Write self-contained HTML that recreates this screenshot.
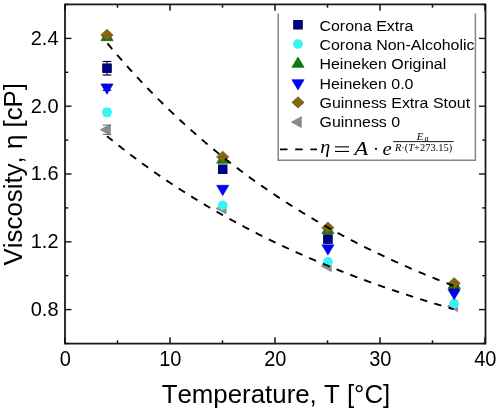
<!DOCTYPE html>
<html><head><meta charset="utf-8"><style>html,body{margin:0;padding:0;background:#fff;width:500px;height:413px;overflow:hidden}svg{display:block;will-change:transform}text{font-kerning:none}</style></head>
<body><svg width="500" height="413" viewBox="0 0 500 413">
<rect x="65" y="4.4" width="420.5" height="339.20000000000005" fill="none" stroke="#1c1c1c" stroke-width="1.8"/>
<line x1="65.0" y1="343.6" x2="65.0" y2="337.3" stroke="#111" stroke-width="1.5"/>
<line x1="65.0" y1="4.4" x2="65.0" y2="10.7" stroke="#111" stroke-width="1.5"/>
<line x1="117.5" y1="343.6" x2="117.5" y2="340.3" stroke="#111" stroke-width="1.5"/>
<line x1="117.5" y1="4.4" x2="117.5" y2="7.7" stroke="#111" stroke-width="1.5"/>
<line x1="170.0" y1="343.6" x2="170.0" y2="337.3" stroke="#111" stroke-width="1.5"/>
<line x1="170.0" y1="4.4" x2="170.0" y2="10.7" stroke="#111" stroke-width="1.5"/>
<line x1="222.5" y1="343.6" x2="222.5" y2="340.3" stroke="#111" stroke-width="1.5"/>
<line x1="222.5" y1="4.4" x2="222.5" y2="7.7" stroke="#111" stroke-width="1.5"/>
<line x1="275.0" y1="343.6" x2="275.0" y2="337.3" stroke="#111" stroke-width="1.5"/>
<line x1="275.0" y1="4.4" x2="275.0" y2="10.7" stroke="#111" stroke-width="1.5"/>
<line x1="327.5" y1="343.6" x2="327.5" y2="340.3" stroke="#111" stroke-width="1.5"/>
<line x1="327.5" y1="4.4" x2="327.5" y2="7.7" stroke="#111" stroke-width="1.5"/>
<line x1="380.0" y1="343.6" x2="380.0" y2="337.3" stroke="#111" stroke-width="1.5"/>
<line x1="380.0" y1="4.4" x2="380.0" y2="10.7" stroke="#111" stroke-width="1.5"/>
<line x1="432.5" y1="343.6" x2="432.5" y2="340.3" stroke="#111" stroke-width="1.5"/>
<line x1="432.5" y1="4.4" x2="432.5" y2="7.7" stroke="#111" stroke-width="1.5"/>
<line x1="485.0" y1="343.6" x2="485.0" y2="337.3" stroke="#111" stroke-width="1.5"/>
<line x1="485.0" y1="4.4" x2="485.0" y2="10.7" stroke="#111" stroke-width="1.5"/>
<line x1="65" y1="343.50" x2="68.3" y2="343.50" stroke="#111" stroke-width="1.4"/>
<line x1="485.5" y1="343.50" x2="482.2" y2="343.50" stroke="#111" stroke-width="1.4"/>
<line x1="65" y1="309.60" x2="71.5" y2="309.60" stroke="#111" stroke-width="1.4"/>
<line x1="485.5" y1="309.60" x2="479.0" y2="309.60" stroke="#111" stroke-width="1.4"/>
<line x1="65" y1="275.70" x2="68.3" y2="275.70" stroke="#111" stroke-width="1.4"/>
<line x1="485.5" y1="275.70" x2="482.2" y2="275.70" stroke="#111" stroke-width="1.4"/>
<line x1="65" y1="241.80" x2="71.5" y2="241.80" stroke="#111" stroke-width="1.4"/>
<line x1="485.5" y1="241.80" x2="479.0" y2="241.80" stroke="#111" stroke-width="1.4"/>
<line x1="65" y1="207.90" x2="68.3" y2="207.90" stroke="#111" stroke-width="1.4"/>
<line x1="485.5" y1="207.90" x2="482.2" y2="207.90" stroke="#111" stroke-width="1.4"/>
<line x1="65" y1="174.00" x2="71.5" y2="174.00" stroke="#111" stroke-width="1.4"/>
<line x1="485.5" y1="174.00" x2="479.0" y2="174.00" stroke="#111" stroke-width="1.4"/>
<line x1="65" y1="140.10" x2="68.3" y2="140.10" stroke="#111" stroke-width="1.4"/>
<line x1="485.5" y1="140.10" x2="482.2" y2="140.10" stroke="#111" stroke-width="1.4"/>
<line x1="65" y1="106.20" x2="71.5" y2="106.20" stroke="#111" stroke-width="1.4"/>
<line x1="485.5" y1="106.20" x2="479.0" y2="106.20" stroke="#111" stroke-width="1.4"/>
<line x1="65" y1="72.30" x2="68.3" y2="72.30" stroke="#111" stroke-width="1.4"/>
<line x1="485.5" y1="72.30" x2="482.2" y2="72.30" stroke="#111" stroke-width="1.4"/>
<line x1="65" y1="38.40" x2="71.5" y2="38.40" stroke="#111" stroke-width="1.4"/>
<line x1="485.5" y1="38.40" x2="479.0" y2="38.40" stroke="#111" stroke-width="1.4"/>
<line x1="65" y1="4.50" x2="68.3" y2="4.50" stroke="#111" stroke-width="1.4"/>
<line x1="485.5" y1="4.50" x2="482.2" y2="4.50" stroke="#111" stroke-width="1.4"/>
<text transform="translate(65.30,366) scale(1,1.06)" x="0" y="0" font-family="Liberation Sans, sans-serif" font-size="20" text-anchor="middle">0</text>
<text transform="translate(170.30,366) scale(1,1.06)" x="0" y="0" font-family="Liberation Sans, sans-serif" font-size="20" text-anchor="middle">10</text>
<text transform="translate(275.30,366) scale(1,1.06)" x="0" y="0" font-family="Liberation Sans, sans-serif" font-size="20" text-anchor="middle">20</text>
<text transform="translate(380.30,366) scale(1,1.06)" x="0" y="0" font-family="Liberation Sans, sans-serif" font-size="20" text-anchor="middle">30</text>
<text transform="translate(485.30,366) scale(1,1.06)" x="0" y="0" font-family="Liberation Sans, sans-serif" font-size="20" text-anchor="middle">40</text>
<text transform="translate(58.5,315.90) scale(1,1.05)" x="0" y="0" font-family="Liberation Sans, sans-serif" font-size="20" text-anchor="end">0.8</text>
<text transform="translate(58.5,248.10) scale(1,1.05)" x="0" y="0" font-family="Liberation Sans, sans-serif" font-size="20" text-anchor="end">1.2</text>
<text transform="translate(58.5,180.30) scale(1,1.05)" x="0" y="0" font-family="Liberation Sans, sans-serif" font-size="20" text-anchor="end">1.6</text>
<text transform="translate(58.5,112.50) scale(1,1.05)" x="0" y="0" font-family="Liberation Sans, sans-serif" font-size="20" text-anchor="end">2.0</text>
<text transform="translate(58.5,44.70) scale(1,1.05)" x="0" y="0" font-family="Liberation Sans, sans-serif" font-size="20" text-anchor="end">2.4</text>
<text x="276" y="403" font-family="Liberation Sans, sans-serif" font-size="25.85" text-anchor="middle">Temperature, T [°C]</text>
<text transform="translate(21.5,174.2) rotate(-90)" x="0" y="0" font-family="Liberation Sans, sans-serif" font-size="25.85" text-anchor="middle">Viscosity, η [cP]</text>
<line x1="107.0" y1="61.5" x2="107.0" y2="75" stroke="#000040" stroke-width="1"/>
<line x1="102.7" y1="61.5" x2="111.3" y2="61.5" stroke="#000040" stroke-width="1.2"/>
<line x1="102.7" y1="75" x2="111.3" y2="75" stroke="#000040" stroke-width="1.2"/>
<line x1="102.7" y1="90.29" x2="111.3" y2="90.29" stroke="#00008a" stroke-width="1.2"/>
<line x1="102.7" y1="84.49" x2="111.3" y2="84.49" stroke="#00008a" stroke-width="1.2"/>
<line x1="102.8" y1="125.16" x2="111.2" y2="125.16" stroke="#7a7a7a" stroke-width="1.2"/>
<line x1="102.8" y1="134.36" x2="111.2" y2="134.36" stroke="#7a7a7a" stroke-width="1.2"/>
<line x1="103.2" y1="108.60" x2="110.8" y2="108.60" stroke="#38f2f4" stroke-width="1.3"/>
<line x1="103.2" y1="116.00" x2="110.8" y2="116.00" stroke="#38f2f4" stroke-width="1.3"/>
<path d="M100.33,129.76 L110.33,124.36 L110.33,135.16Z" fill="#8c8c8c" stroke="#707070" stroke-width="0.6"/>
<path d="M216.05,208.41 L226.05,203.01 L226.05,213.81Z" fill="#8c8c8c" stroke="#707070" stroke-width="0.6"/>
<path d="M321.25,266.21 L331.25,260.81 L331.25,271.61Z" fill="#8c8c8c" stroke="#707070" stroke-width="0.6"/>
<path d="M447.49,306.21 L457.49,300.81 L457.49,311.61Z" fill="#8c8c8c" stroke="#707070" stroke-width="0.6"/>
<rect x="102.70" y="63.93" width="8.6" height="8.6" fill="#000090" stroke="#000040" stroke-width="0.9"/>
<rect x="218.42" y="164.95" width="8.6" height="8.6" fill="#000090" stroke="#000040" stroke-width="0.9"/>
<rect x="323.62" y="234.79" width="8.6" height="8.6" fill="#000090" stroke="#000040" stroke-width="0.9"/>
<rect x="449.86" y="283.26" width="8.6" height="8.6" fill="#000090" stroke="#000040" stroke-width="0.9"/>
<circle cx="107.00" cy="112.30" r="4.85" fill="#38f2f4"/>
<circle cx="222.72" cy="205.36" r="4.85" fill="#38f2f4"/>
<circle cx="327.92" cy="261.97" r="4.85" fill="#38f2f4"/>
<circle cx="454.16" cy="303.67" r="4.85" fill="#38f2f4"/>
<path d="M107.00,30.35 L113.10,40.65 L100.90,40.65Z" fill="#0a7d0a" stroke="#055a05" stroke-width="0.6"/>
<path d="M222.72,153.06 L228.82,163.36 L216.62,163.36Z" fill="#0a7d0a" stroke="#055a05" stroke-width="0.6"/>
<path d="M327.92,223.41 L334.02,233.71 L321.82,233.71Z" fill="#0a7d0a" stroke="#055a05" stroke-width="0.6"/>
<path d="M454.16,278.16 L460.26,288.46 L448.06,288.46Z" fill="#0a7d0a" stroke="#055a05" stroke-width="0.6"/>
<path d="M100.90,83.95 L113.10,83.95 L107.00,94.25Z" fill="#0000ff" stroke="#0000b0" stroke-width="0.6"/>
<path d="M216.62,185.31 L228.82,185.31 L222.72,195.61Z" fill="#0000ff" stroke="#0000b0" stroke-width="0.6"/>
<path d="M321.82,244.81 L334.02,244.81 L327.92,255.11Z" fill="#0000ff" stroke="#0000b0" stroke-width="0.6"/>
<path d="M448.06,289.39 L460.26,289.39 L454.16,299.69Z" fill="#0000ff" stroke="#0000b0" stroke-width="0.6"/>
<path d="M107.00,29.31 L113.15,35.01 L107.00,40.71 L100.85,35.01Z" fill="#85650f" stroke="#5e470a" stroke-width="0.6"/>
<path d="M222.72,151.18 L228.87,156.88 L222.72,162.58 L216.57,156.88Z" fill="#85650f" stroke="#5e470a" stroke-width="0.6"/>
<path d="M327.92,222.03 L334.07,227.73 L327.92,233.43 L321.77,227.73Z" fill="#85650f" stroke="#5e470a" stroke-width="0.6"/>
<path d="M454.16,277.63 L460.31,283.33 L454.16,289.03 L448.01,283.33Z" fill="#85650f" stroke="#5e470a" stroke-width="0.6"/>
<polyline points="107.00,42.89 108.05,44.15 109.10,45.41 110.15,46.66 111.20,47.91 112.25,49.15 113.30,50.38 114.35,51.62 115.40,52.84 116.45,54.06 117.50,55.28 118.55,56.50 119.60,57.70 120.65,58.91 121.70,60.11 122.75,61.30 123.80,62.49 124.85,63.68 125.90,64.86 126.95,66.03 128.00,67.21 129.05,68.37 130.10,69.54 131.15,70.70 132.20,71.85 133.25,73.00 134.30,74.15 135.35,75.29 136.40,76.42 137.45,77.56 138.50,78.69 139.55,79.81 140.60,80.93 141.65,82.04 142.70,83.16 143.75,84.26 144.80,85.37 145.85,86.47 146.90,87.56 147.95,88.65 149.00,89.74 150.05,90.82 151.10,91.90 152.15,92.97 153.20,94.04 154.25,95.11 155.30,96.17 156.35,97.23 157.40,98.28 158.45,99.33 159.50,100.38 160.55,101.42 161.60,102.46 162.65,103.50 163.70,104.53 164.75,105.56 165.80,106.58 166.85,107.60 167.90,108.61 168.95,109.63 170.00,110.63 171.05,111.64 172.10,112.64 173.15,113.64 174.20,114.63 175.25,115.62 176.30,116.61 177.35,117.59 178.40,118.57 179.45,119.54 180.50,120.51 181.55,121.48 182.60,122.45 183.65,123.41 184.70,124.36 185.75,125.32 186.80,126.27 187.85,127.22 188.90,128.16 189.95,129.10 191.00,130.03 192.05,130.97 193.10,131.90 194.15,132.82 195.20,133.75 196.25,134.67 197.30,135.58 198.35,136.50 199.40,137.40 200.45,138.31 201.50,139.21 202.55,140.11 203.60,141.01 204.65,141.90 205.70,142.79 206.75,143.68 207.80,144.56 208.85,145.44 209.90,146.32 210.95,147.19 212.00,148.06 213.05,148.93 214.10,149.80 215.15,150.66 216.20,151.51 217.25,152.37 218.30,153.22 219.35,154.07 220.40,154.92 221.45,155.76 222.50,156.60 223.55,157.44 224.60,158.27 225.65,159.10 226.70,159.93 227.75,160.75 228.80,161.57 229.85,162.39 230.90,163.21 231.95,164.02 233.00,164.83 234.05,165.64 235.10,166.44 236.15,167.25 237.20,168.04 238.25,168.84 239.30,169.63 240.35,170.42 241.40,171.21 242.45,172.00 243.50,172.78 244.55,173.56 245.60,174.33 246.65,175.11 247.70,175.88 248.75,176.64 249.80,177.41 250.85,178.17 251.90,178.93 252.95,179.69 254.00,180.44 255.05,181.20 256.10,181.95 257.15,182.69 258.20,183.44 259.25,184.18 260.30,184.92 261.35,185.65 262.40,186.39 263.45,187.12 264.50,187.84 265.55,188.57 266.60,189.29 267.65,190.01 268.70,190.73 269.75,191.45 270.80,192.16 271.85,192.87 272.90,193.58 273.95,194.29 275.00,194.99 276.05,195.69 277.10,196.39 278.15,197.09 279.20,197.78 280.25,198.47 281.30,199.16 282.35,199.85 283.40,200.53 284.45,201.21 285.50,201.89 286.55,202.57 287.60,203.24 288.65,203.92 289.70,204.59 290.75,205.25 291.80,205.92 292.85,206.58 293.90,207.24 294.95,207.90 296.00,208.56 297.05,209.21 298.10,209.86 299.15,210.51 300.20,211.16 301.25,211.80 302.30,212.45 303.35,213.09 304.40,213.73 305.45,214.36 306.50,215.00 307.55,215.63 308.60,216.26 309.65,216.89 310.70,217.51 311.75,218.13 312.80,218.76 313.85,219.37 314.90,219.99 315.95,220.61 317.00,221.22 318.05,221.83 319.10,222.44 320.15,223.05 321.20,223.65 322.25,224.25 323.30,224.85 324.35,225.45 325.40,226.05 326.45,226.64 327.50,227.23 328.55,227.82 329.60,228.41 330.65,229.00 331.70,229.58 332.75,230.17 333.80,230.75 334.85,231.32 335.90,231.90 336.95,232.48 338.00,233.05 339.05,233.62 340.10,234.19 341.15,234.75 342.20,235.32 343.25,235.88 344.30,236.44 345.35,237.00 346.40,237.56 347.45,238.12 348.50,238.67 349.55,239.22 350.60,239.77 351.65,240.32 352.70,240.87 353.75,241.41 354.80,241.95 355.85,242.50 356.90,243.03 357.95,243.57 359.00,244.11 360.05,244.64 361.10,245.17 362.15,245.70 363.20,246.23 364.25,246.76 365.30,247.28 366.35,247.81 367.40,248.33 368.45,248.85 369.50,249.37 370.55,249.88 371.60,250.40 372.65,250.91 373.70,251.42 374.75,251.93 375.80,252.44 376.85,252.95 377.90,253.45 378.95,253.95 380.00,254.46 381.05,254.96 382.10,255.45 383.15,255.95 384.20,256.45 385.25,256.94 386.30,257.43 387.35,257.92 388.40,258.41 389.45,258.90 390.50,259.38 391.55,259.86 392.60,260.35 393.65,260.83 394.70,261.31 395.75,261.78 396.80,262.26 397.85,262.73 398.90,263.21 399.95,263.68 401.00,264.15 402.05,264.61 403.10,265.08 404.15,265.55 405.20,266.01 406.25,266.47 407.30,266.93 408.35,267.39 409.40,267.85 410.45,268.31 411.50,268.76 412.55,269.21 413.60,269.67 414.65,270.12 415.70,270.56 416.75,271.01 417.80,271.46 418.85,271.90 419.90,272.35 420.95,272.79 422.00,273.23 423.05,273.67 424.10,274.10 425.15,274.54 426.20,274.98 427.25,275.41 428.30,275.84 429.35,276.27 430.40,276.70 431.45,277.13 432.50,277.55 433.55,277.98 434.60,278.40 435.65,278.83 436.70,279.25 437.75,279.67 438.80,280.08 439.85,280.50 440.90,280.92 441.95,281.33 443.00,281.75 444.05,282.16 445.10,282.57 446.15,282.98 447.20,283.38 448.25,283.79 449.30,284.20 450.35,284.60 451.40,285.00 452.45,285.40 453.50,285.80" fill="none" stroke="#000" stroke-width="1.9" stroke-dasharray="7.5,7.5" stroke-dashoffset="-0.6"/>
<polyline points="107.00,136.17 108.05,137.03 109.10,137.88 110.15,138.73 111.20,139.58 112.25,140.43 113.30,141.27 114.35,142.11 115.40,142.95 116.45,143.78 117.50,144.62 118.55,145.45 119.60,146.27 120.65,147.09 121.70,147.91 122.75,148.73 123.80,149.55 124.85,150.36 125.90,151.17 126.95,151.97 128.00,152.78 129.05,153.58 130.10,154.37 131.15,155.17 132.20,155.96 133.25,156.75 134.30,157.54 135.35,158.32 136.40,159.10 137.45,159.88 138.50,160.66 139.55,161.43 140.60,162.20 141.65,162.97 142.70,163.74 143.75,164.50 144.80,165.26 145.85,166.02 146.90,166.77 147.95,167.52 149.00,168.27 150.05,169.02 151.10,169.77 152.15,170.51 153.20,171.25 154.25,171.99 155.30,172.72 156.35,173.45 157.40,174.18 158.45,174.91 159.50,175.63 160.55,176.36 161.60,177.08 162.65,177.79 163.70,178.51 164.75,179.22 165.80,179.93 166.85,180.64 167.90,181.35 168.95,182.05 170.00,182.75 171.05,183.45 172.10,184.14 173.15,184.84 174.20,185.53 175.25,186.22 176.30,186.90 177.35,187.59 178.40,188.27 179.45,188.95 180.50,189.63 181.55,190.30 182.60,190.98 183.65,191.65 184.70,192.32 185.75,192.98 186.80,193.65 187.85,194.31 188.90,194.97 189.95,195.62 191.00,196.28 192.05,196.93 193.10,197.58 194.15,198.23 195.20,198.88 196.25,199.52 197.30,200.17 198.35,200.81 199.40,201.44 200.45,202.08 201.50,202.71 202.55,203.35 203.60,203.98 204.65,204.60 205.70,205.23 206.75,205.85 207.80,206.47 208.85,207.09 209.90,207.71 210.95,208.33 212.00,208.94 213.05,209.55 214.10,210.16 215.15,210.77 216.20,211.37 217.25,211.98 218.30,212.58 219.35,213.18 220.40,213.77 221.45,214.37 222.50,214.96 223.55,215.55 224.60,216.14 225.65,216.73 226.70,217.32 227.75,217.90 228.80,218.48 229.85,219.06 230.90,219.64 231.95,220.22 233.00,220.79 234.05,221.37 235.10,221.94 236.15,222.50 237.20,223.07 238.25,223.64 239.30,224.20 240.35,224.76 241.40,225.32 242.45,225.88 243.50,226.44 244.55,226.99 245.60,227.54 246.65,228.09 247.70,228.64 248.75,229.19 249.80,229.74 250.85,230.28 251.90,230.82 252.95,231.36 254.00,231.90 255.05,232.44 256.10,232.97 257.15,233.51 258.20,234.04 259.25,234.57 260.30,235.10 261.35,235.62 262.40,236.15 263.45,236.67 264.50,237.19 265.55,237.71 266.60,238.23 267.65,238.75 268.70,239.26 269.75,239.78 270.80,240.29 271.85,240.80 272.90,241.31 273.95,241.81 275.00,242.32 276.05,242.82 277.10,243.32 278.15,243.82 279.20,244.32 280.25,244.82 281.30,245.32 282.35,245.81 283.40,246.30 284.45,246.79 285.50,247.28 286.55,247.77 287.60,248.26 288.65,248.74 289.70,249.23 290.75,249.71 291.80,250.19 292.85,250.67 293.90,251.15 294.95,251.62 296.00,252.10 297.05,252.57 298.10,253.04 299.15,253.51 300.20,253.98 301.25,254.45 302.30,254.91 303.35,255.38 304.40,255.84 305.45,256.30 306.50,256.76 307.55,257.22 308.60,257.68 309.65,258.13 310.70,258.58 311.75,259.04 312.80,259.49 313.85,259.94 314.90,260.39 315.95,260.83 317.00,261.28 318.05,261.72 319.10,262.17 320.15,262.61 321.20,263.05 322.25,263.49 323.30,263.93 324.35,264.36 325.40,264.80 326.45,265.23 327.50,265.66 328.55,266.09 329.60,266.52 330.65,266.95 331.70,267.38 332.75,267.80 333.80,268.23 334.85,268.65 335.90,269.07 336.95,269.49 338.00,269.91 339.05,270.33 340.10,270.75 341.15,271.16 342.20,271.58 343.25,271.99 344.30,272.40 345.35,272.81 346.40,273.22 347.45,273.63 348.50,274.04 349.55,274.44 350.60,274.85 351.65,275.25 352.70,275.65 353.75,276.05 354.80,276.45 355.85,276.85 356.90,277.25 357.95,277.64 359.00,278.04 360.05,278.43 361.10,278.82 362.15,279.21 363.20,279.60 364.25,279.99 365.30,280.38 366.35,280.76 367.40,281.15 368.45,281.53 369.50,281.92 370.55,282.30 371.60,282.68 372.65,283.06 373.70,283.43 374.75,283.81 375.80,284.19 376.85,284.56 377.90,284.94 378.95,285.31 380.00,285.68 381.05,286.05 382.10,286.42 383.15,286.79 384.20,287.16 385.25,287.52 386.30,287.89 387.35,288.25 388.40,288.61 389.45,288.97 390.50,289.33 391.55,289.69 392.60,290.05 393.65,290.41 394.70,290.77 395.75,291.12 396.80,291.48 397.85,291.83 398.90,292.18 399.95,292.53 401.00,292.88 402.05,293.23 403.10,293.58 404.15,293.93 405.20,294.27 406.25,294.62 407.30,294.96 408.35,295.30 409.40,295.65 410.45,295.99 411.50,296.33 412.55,296.67 413.60,297.00 414.65,297.34 415.70,297.68 416.75,298.01 417.80,298.35 418.85,298.68 419.90,299.01 420.95,299.34 422.00,299.67 423.05,300.00 424.10,300.33 425.15,300.66 426.20,300.98 427.25,301.31 428.30,301.63 429.35,301.96 430.40,302.28 431.45,302.60 432.50,302.92 433.55,303.24 434.60,303.56 435.65,303.88 436.70,304.19 437.75,304.51 438.80,304.83 439.85,305.14 440.90,305.45 441.95,305.77 443.00,306.08 444.05,306.39 445.10,306.70 446.15,307.01 447.20,307.31 448.25,307.62 449.30,307.93 450.35,308.23 451.40,308.54 452.45,308.84 453.50,309.14" fill="none" stroke="#000" stroke-width="1.9" stroke-dasharray="7.4,7.4"/>
<rect x="278" y="13" width="197.5" height="147.5" fill="#fff"/>
<path d="M278.2,13.5 V160.3 H475.4 V13.5" fill="none" stroke="#858585" stroke-width="1.5"/>
<rect x="293.70" y="20.45" width="8.6" height="8.6" fill="#000090" stroke="#000040" stroke-width="0.9"/>
<text transform="translate(319.5,30.60) scale(1,0.93)" x="0" y="0" font-family="Liberation Sans, sans-serif" font-size="15.95">Corona Extra</text>
<circle cx="298.00" cy="44.00" r="4.85" fill="#38f2f4"/>
<text transform="translate(319.5,49.90) scale(1,0.93)" x="0" y="0" font-family="Liberation Sans, sans-serif" font-size="15.95">Corona Non-Alcoholic</text>
<path d="M298.00,57.03 L304.10,67.33 L291.90,67.33Z" fill="#0a7d0a" stroke="#055a05" stroke-width="0.6"/>
<text transform="translate(319.5,69.20) scale(1,0.93)" x="0" y="0" font-family="Liberation Sans, sans-serif" font-size="15.95">Heineken Original</text>
<path d="M291.90,79.67 L304.10,79.67 L298.00,89.97Z" fill="#0000ff" stroke="#0000b0" stroke-width="0.6"/>
<text transform="translate(319.5,88.50) scale(1,0.93)" x="0" y="0" font-family="Liberation Sans, sans-serif" font-size="15.95">Heineken 0.0</text>
<path d="M298.00,96.70 L304.15,102.40 L298.00,108.10 L291.85,102.40Z" fill="#85650f" stroke="#5e470a" stroke-width="0.6"/>
<text transform="translate(319.5,107.80) scale(1,0.93)" x="0" y="0" font-family="Liberation Sans, sans-serif" font-size="15.95">Guinness Extra Stout</text>
<path d="M291.33,122.10 L301.33,116.70 L301.33,127.50Z" fill="#8c8c8c" stroke="#707070" stroke-width="0.6"/>
<text transform="translate(319.5,127.10) scale(1,0.93)" x="0" y="0" font-family="Liberation Sans, sans-serif" font-size="15.95">Guinness 0</text>
<line x1="280" y1="149.3" x2="317" y2="149.3" stroke="#000" stroke-width="1.8" stroke-dasharray="7.5,7.7"/>
<text x="320.3" y="152.6" font-family="Liberation Serif, serif" font-size="19" font-style="italic" textLength="10" lengthAdjust="spacingAndGlyphs">η</text>
<rect x="335" y="146.3" width="14" height="1.1" fill="#000"/>
<rect x="335" y="150.9" width="14" height="1.1" fill="#000"/>
<text x="354.2" y="154.6" font-family="Liberation Serif, serif" font-size="18.5" font-style="italic" textLength="14" lengthAdjust="spacingAndGlyphs">A</text>
<circle cx="376" cy="148.8" r="1.15" fill="#000"/>
<text x="382.6" y="154.6" font-family="Liberation Serif, serif" font-size="18" font-style="italic" textLength="9.2" lengthAdjust="spacingAndGlyphs">e</text>
<rect x="393.1" y="141.2" width="60.6" height="0.9" fill="#000"/>
<text x="416.8" y="139.8" font-family="Liberation Serif, serif" font-size="10.8" font-style="italic">E</text>
<text x="424.6" y="140.8" font-family="Liberation Serif, serif" font-size="8.2" font-style="italic">a</text>
<text x="395" y="151.2" font-family="Liberation Serif, serif" font-size="9.8" textLength="57.2" lengthAdjust="spacingAndGlyphs"><tspan font-style="italic">R</tspan>·(<tspan font-style="italic">T</tspan>+273.15)</text>
</svg></body></html>
